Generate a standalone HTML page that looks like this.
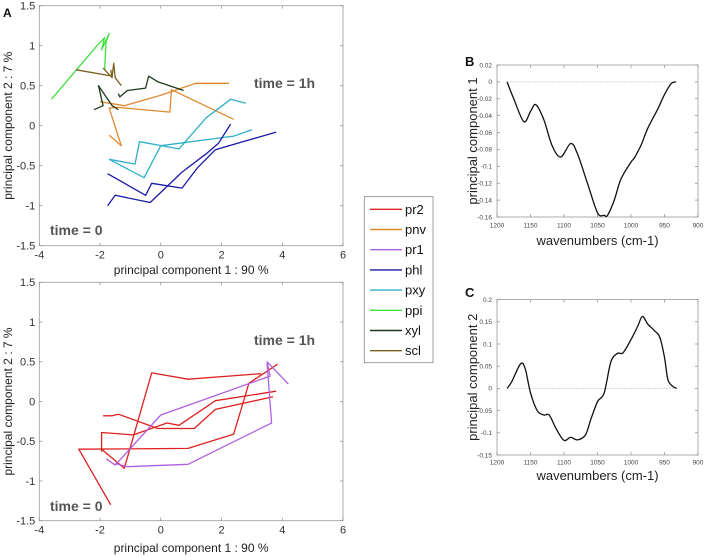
<!DOCTYPE html>
<html><head><meta charset="utf-8"><style>
body{margin:0;background:#fff;}
svg{display:block;font-family:"Liberation Sans",sans-serif;}
</style></head><body>
<svg id="fig" width="708" height="557" viewBox="0 0 708 557"></svg>
<script>
// ---- data ----
const pcaTicksX=[-4,-2,0,2,4,6];
const pcaTicksY=[-1.5,-1,-0.5,0,0.5,1,1.5];
const seriesNames=['pr2','pnv','pr1','phl','pxy','ppi','xyl','scl'];
const seriesColors=['#e02020','#e08a30','#b060e0','#1a1aa8','#30b0c8','#40e040','#1c3a1c','#7a6020'];
const topSeries={
 pnv:[[[-1.7,-0.12],[-1.3,-0.25],[-1.7,0.22],[-1.45,0.23],[0.3,0.17],[0.35,0.45],[2.4,0.08]],
      [[-2.0,0.3],[-1.2,0.25],[0,0.38],[1.15,0.53],[2.25,0.53]]],
 pxy:[[[-1.7,-0.42],[-0.85,-0.48],[-0.7,-0.2],[0.6,-0.29],[1.5,0.1],[2.3,0.33],[2.8,0.28]],
      [[-1.7,-0.42],[-0.55,-0.65],[0,-0.25],[2.4,-0.13],[3.0,-0.05]]],
 phl:[[[-1.75,-1.0],[-1.5,-0.87],[-0.35,-0.96],[0.7,-0.58],[1.5,-0.35],[1.9,-0.22],[2.3,0.02]],
      [[-1.75,-0.6],[-0.5,-0.87],[-0.3,-0.72],[0.7,-0.78],[1.2,-0.53],[1.8,-0.3],[3.8,-0.08]]],
 ppi:[[[-3.6,0.33],[-2.1,1.0],[-1.85,1.1],[-1.95,0.95],[-1.7,1.15],[-1.8,1.05],[-1.85,0.7]]],
 scl:[[[-2.8,0.7],[-1.6,0.62],[-1.55,0.78],[-1.5,0.6],[-1.3,0.5]],
      [[-1.9,0.72],[-1.6,0.6],[-1.65,0.7]]],
 xyl:[[[-2.2,0.2],[-1.9,0.25],[-2.05,0.5],[-1.6,0.25],[-1.4,0.2]],
      [[-1.4,0.4],[-1.35,0.36],[-1.1,0.44],[-0.5,0.47],[-0.4,0.62],[-0.1,0.55],[0.75,0.44]]]
};
const bottomSeries={
 pr2:[[[-1.65,-1.3],[-2.7,-0.6],[0.9,-0.59],[2.4,-0.41],[2.9,0.23],[3.85,0.47]],
      [[-1.95,-0.63],[-1.95,-0.39],[-0.9,-0.42],[0.2,-0.27],[0.6,-0.3],[1.8,0.01],[3.8,0.13]],
      [[-1.9,-0.18],[-1.6,-0.18],[-1.4,-0.16],[-0.1,-0.34],[1.1,-0.34],[1.8,-0.1],[3.7,0.06]],
      [[-1.95,-0.6],[-1.2,-0.84],[-0.3,0.36],[0.9,0.28],[3.3,0.35]]],
 pr1:[[[-1.8,-0.72],[-1.5,-0.8],[0,-0.17],[3.6,0.32],[3.5,0.5],[4.2,0.22]],
      [[-1.5,-0.78],[-1.1,-0.82],[0.9,-0.79],[3.65,-0.27],[3.5,0.48]]]
};
const wnB=[1185,1175,1160,1150,1142,1130,1118,1105,1090,1080,1065,1050,1040,1035,1025,1015,1000,995,985,975,960,950,940,933];
const pc1=[0,-0.02,-0.047,-0.035,-0.027,-0.045,-0.075,-0.089,-0.073,-0.085,-0.12,-0.155,-0.158,-0.158,-0.14,-0.115,-0.095,-0.09,-0.075,-0.055,-0.032,-0.015,-0.002,0];
const wnC=[1185,1178,1165,1158,1150,1140,1130,1122,1112,1100,1090,1080,1068,1060,1050,1040,1030,1020,1012,1000,990,983,975,965,957,950,945,938,932];
const pc2=[0,0.015,0.055,0.045,-0.01,-0.05,-0.06,-0.06,-0.09,-0.117,-0.11,-0.116,-0.105,-0.07,-0.03,-0.01,0.06,0.079,0.08,0.11,0.14,0.162,0.145,0.13,0.115,0.07,0.02,0.005,0];
const specTicksX=[1200,1150,1100,1050,1000,950,900];
const bTicksY=[0.02,0,-0.02,-0.04,-0.06,-0.08,-0.1,-0.12,-0.14,-0.16];
const cTicksY=[0.2,0.15,0.1,0.05,0,-0.05,-0.1,-0.15];

const NS='http://www.w3.org/2000/svg';
const svg=document.getElementById('fig');
function mk(tag,attrs,parent,txt){const e=document.createElementNS(NS,tag);for(const k in attrs)e.setAttribute(k,attrs[k]);if(txt!==undefined)e.textContent=txt;(parent||svg).appendChild(e);return e;}

function axes(o){
 const g=mk('g',{});
 
 
 const sx=v=>o.x0+(v-o.xmin)/(o.xmax-o.xmin)*(o.x1-o.x0);
 const sy=v=>o.y1-(v-o.ymin)/(o.ymax-o.ymin)*(o.y1-o.y0);
 mk('rect',{x:o.x0,y:o.y0,width:o.x1-o.x0,height:o.y1-o.y0,fill:'#fff',stroke:'#9a9a9a','stroke-width':0.8},g);
 o.tx.forEach(t=>{const x=sx(t);
  mk('line',{x1:x,x2:x,y1:o.y1,y2:o.y1-3,stroke:'#888','stroke-width':0.7},g);
  mk('line',{x1:x,x2:x,y1:o.y0,y2:o.y0+3,stroke:'#888','stroke-width':0.7},g);
  const tl=mk('text',{x:x,y:o.y1+o.fs+(o.xg||2),'font-size':o.fs,fill:o.tc||'#333','text-anchor':'middle'},g,String(t));
  });
 o.ty.forEach(t=>{const y=sy(t);
  mk('line',{x1:o.x0,x2:o.x0+3,y1:y,y2:y,stroke:'#888','stroke-width':0.7},g);
  mk('line',{x1:o.x1,x2:o.x1-3,y1:y,y2:y,stroke:'#888','stroke-width':0.7},g);
  const tl=mk('text',{x:o.x0-(o.tg||4),y:y+o.fs*0.35,'font-size':o.fs,fill:o.tc||'#333','text-anchor':'end'},g,String(t));
  });
 const xl=mk('text',{x:(o.x0+o.x1)/2,y:o.xly,'font-size':o.lfs,fill:'#222','text-anchor':'middle'},g,o.xlabel);
 
 const yl=mk('text',{x:0,y:0,'font-size':o.lfs,fill:'#222','text-anchor':'middle',transform:`translate(${o.ylx},${(o.y0+o.y1)/2}) rotate(-90)`},g,o.ylabel);
 
 return {g,sx,sy};
}
function poly(ax,pts,color,w,name){
 const p=mk('polyline',{points:pts.map(q=>ax.sx(q[0]).toFixed(1)+','+ax.sy(q[1]).toFixed(1)).join(' '),fill:'none',stroke:color,'stroke-width':w,'stroke-linejoin':'round'},ax.g);
 
}
function smooth(ax,xs,ys,name){
 const P=xs.map((x,i)=>[ax.sx(x),ax.sy(ys[i])]);
 let d='M'+P[0][0]+','+P[0][1];
 for(let i=0;i<P.length-1;i++){const p0=P[i-1]||P[i],p1=P[i],p2=P[i+1],p3=P[i+2]||P[i+1];
  d+=` C${p1[0]+(p2[0]-p0[0])/6},${p1[1]+(p2[1]-p0[1])/6} ${p2[0]-(p3[0]-p1[0])/6},${p2[1]-(p3[1]-p1[1])/6} ${p2[0]},${p2[1]}`;}
 const p=mk('path',{d:d,fill:'none',stroke:'#111','stroke-width':1.3},ax.g);
 
}
function label(txt,x,y,fs,bold,fill,name){const t=mk('text',{x:x,y:y,'font-size':fs,'font-weight':bold?'bold':'normal',fill:fill},svg,txt);}

const pcaLabelX='principal component 1 : 90 %', pcaLabelY='principal component 2 :  7 %';
const A=axes({name:'pca-top-chart',x0:39.3,x1:343,y0:5.7,y1:245.7,xmin:-4,xmax:6,ymin:-1.5,ymax:1.5,tx:pcaTicksX,ty:pcaTicksY,fs:11,lfs:12,xlabel:pcaLabelX,ylabel:pcaLabelY,xly:274,ylx:12});
for(const k in topSeries){const c=seriesColors[seriesNames.indexOf(k)];topSeries[k].forEach((s,i)=>poly(A,s,c,1.3,'line-'+k+'-'+i));}
const Bt=axes({name:'pca-bottom-chart',x0:39.3,x1:343,y0:282.3,y1:520.7,xmin:-4,xmax:6,ymin:-1.5,ymax:1.5,tx:pcaTicksX,ty:pcaTicksY,fs:11,lfs:12,xlabel:pcaLabelX,ylabel:pcaLabelY,xly:552,ylx:12});
for(const k in bottomSeries){const c=seriesColors[seriesNames.indexOf(k)];bottomSeries[k].forEach((s,i)=>poly(Bt,s,c,1.3,'line-'+k+'-'+i));}
label('time = 1h',254,88,14,true,'#555','time-label-top-1h');
label('time = 0',50,235,14,true,'#555','time-label-top-0');
label('time = 1h',254,345,14,true,'#555','time-label-bottom-1h');
label('time = 0',50,511,14,true,'#555','time-label-bottom-0');
label('A',3,17,12,true,'#111','panel-label-a');
label('B',465,66,13,true,'#111','panel-label-b');
label('C',465,297,13,true,'#111','panel-label-c');

const PB=axes({name:'pc1-loading-chart',x0:497,x1:698,y0:65,y1:217,xmin:1200,xmax:900,ymin:-0.16,ymax:0.02,tx:specTicksX,ty:bTicksY,fs:6.5,tg:5,xg:4,tc:'#444',lfs:13,xlabel:'wavenumbers (cm-1)',ylabel:'principal component 1',xly:245,ylx:477});
mk('line',{x1:PB.sx(1185),x2:PB.sx(930),y1:PB.sy(0),y2:PB.sy(0),stroke:'#ccc','stroke-width':0.7,'stroke-dasharray':'2,1'},PB.g);
smooth(PB,wnB,pc1,'pc1-curve');
const PC=axes({name:'pc2-loading-chart',x0:497,x1:698,y0:299.6,y1:455,xmin:1200,xmax:900,ymin:-0.15,ymax:0.2,tx:specTicksX,ty:cTicksY,fs:6.5,tg:5,xg:3,tc:'#444',lfs:13,xlabel:'wavenumbers (cm-1)',ylabel:'principal component 2',xly:480,ylx:477});
mk('line',{x1:PC.sx(1185),x2:PC.sx(930),y1:PC.sy(0),y2:PC.sy(0),stroke:'#ccc','stroke-width':0.7,'stroke-dasharray':'2,1'},PC.g);
smooth(PC,wnC,pc2,'pc2-curve');

// legend
const lg=mk('g',{});


mk('rect',{x:364.3,y:196.7,width:68.7,height:166,fill:'#fff',stroke:'#888','stroke-width':0.8},lg);
seriesNames.forEach((n,i)=>{const y=209.3+i*20.2;
 const e=mk('g',{},lg);
 
 
 mk('line',{x1:370,x2:402,y1:y,y2:y,stroke:seriesColors[i],'stroke-width':1.4},e);
 mk('text',{x:405,y:y+4.5,'font-size':13,fill:'#111'},e,n);});
</script>
</body></html>
